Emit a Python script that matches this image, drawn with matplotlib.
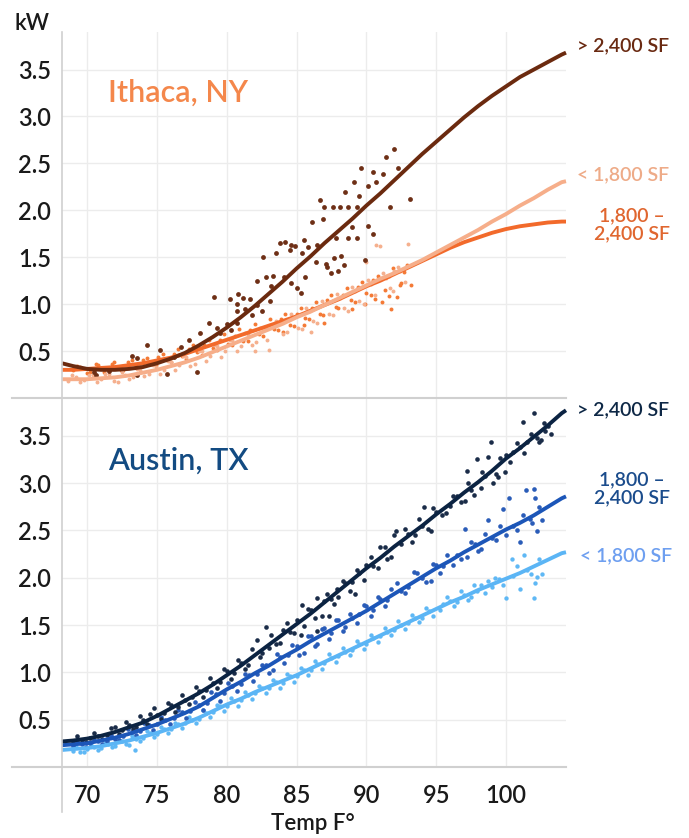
import numpy as np
import matplotlib.pyplot as plt
from matplotlib.lines import Line2D

plt.rcParams['font.family'] = ['Lato', 'DejaVu Sans']
plt.rcParams['font.weight'] = 'semibold'

# fitted load curves, kW vs outdoor temperature (F)
curve_temp = [68.2, 69, 70, 71, 72, 73, 74, 75, 76, 77, 78, 79, 80, 81, 82, 83, 84, 85, 86,
              87, 88, 89, 90, 91, 92, 93, 94, 95, 96, 97, 98, 99, 100, 101, 102, 103, 104, 104.3]

ith_large_fit = [0.37, 0.34, 0.31, 0.30, 0.30, 0.31, 0.33, 0.37, 0.42, 0.48, 0.56, 0.65, 0.75,
                 0.86, 0.98, 1.11, 1.24, 1.38, 1.51, 1.65, 1.78, 1.91, 2.05, 2.18, 2.32, 2.46,
                 2.60, 2.73, 2.86, 2.99, 3.11, 3.22, 3.32, 3.42, 3.50, 3.58, 3.66, 3.68]
ith_mid_fit = [0.30, 0.30, 0.31, 0.32, 0.33, 0.35, 0.37, 0.40, 0.43, 0.47, 0.52, 0.57, 0.62,
               0.67, 0.72, 0.77, 0.82, 0.87, 0.93, 0.99, 1.05, 1.12, 1.19, 1.25, 1.32, 1.39,
               1.46, 1.53, 1.60, 1.66, 1.71, 1.76, 1.80, 1.83, 1.85, 1.87, 1.88, 1.88]
ith_small_fit = [0.20, 0.20, 0.20, 0.21, 0.22, 0.24, 0.27, 0.30, 0.34, 0.38, 0.43, 0.49, 0.55,
                 0.61, 0.67, 0.73, 0.79, 0.86, 0.92, 0.99, 1.06, 1.13, 1.20, 1.27, 1.33, 1.40,
                 1.47, 1.55, 1.63, 1.71, 1.79, 1.88, 1.96, 2.05, 2.13, 2.22, 2.30, 2.31]

aus_large_fit = [0.27, 0.28, 0.30, 0.33, 0.37, 0.42, 0.47, 0.54, 0.62, 0.70, 0.78, 0.87, 0.97,
                 1.07, 1.18, 1.29, 1.40, 1.51, 1.62, 1.74, 1.86, 1.98, 2.10, 2.21, 2.33, 2.44,
                 2.55, 2.67, 2.78, 2.90, 3.01, 3.13, 3.26, 3.37, 3.49, 3.61, 3.74, 3.77]
aus_mid_fit = [0.23, 0.24, 0.25, 0.28, 0.31, 0.35, 0.40, 0.45, 0.51, 0.57, 0.64, 0.73, 0.82,
               0.90, 0.99, 1.07, 1.16, 1.24, 1.33, 1.41, 1.49, 1.57, 1.65, 1.74, 1.83, 1.92,
               2.01, 2.10, 2.18, 2.27, 2.35, 2.43, 2.51, 2.58, 2.66, 2.75, 2.84, 2.86]
aus_small_fit = [0.18, 0.19, 0.20, 0.22, 0.25, 0.28, 0.32, 0.36, 0.41, 0.46, 0.52, 0.59, 0.66,
                 0.72, 0.79, 0.85, 0.91, 0.97, 1.04, 1.11, 1.18, 1.25, 1.32, 1.39, 1.46, 1.53,
                 1.60, 1.67, 1.74, 1.80, 1.87, 1.93, 1.99, 2.05, 2.12, 2.19, 2.26, 2.27]

# hourly observations (temp, kW)
ith_large_obs = [
    (70.5, 0.28), (70.6, 0.25), (71.6, 0.29), (73.2, 0.45), (73.6, 0.43), (73.6, 0.24),
    (74.3, 0.56), (75.2, 0.51), (75.7, 0.26), (76.2, 0.44), (76.7, 0.54), (77.3, 0.62),
    (77.9, 0.28), (78.1, 0.69), (78.7, 0.80), (79.1, 1.08), (79.3, 0.75), (79.5, 0.69),
    (80.0, 0.79), (80.2, 1.06), (80.3, 0.72), (80.7, 0.80), (80.7, 1.00), (80.7, 0.93),
    (80.8, 1.11), (81.2, 1.07), (81.3, 0.95), (81.7, 1.05), (81.8, 0.88), (82.2, 1.25),
    (82.2, 0.99), (82.5, 0.93), (82.6, 1.50), (82.8, 1.29), (83.1, 1.03), (83.2, 1.19),
    (83.3, 1.30), (83.5, 1.55), (83.8, 1.65), (84.1, 1.29), (84.2, 1.66), (84.5, 1.58),
    (84.6, 1.63), (84.6, 1.23), (84.9, 1.62), (85.0, 1.17), (85.3, 1.12), (85.4, 1.54),
    (85.5, 1.68), (85.6, 1.29), (85.8, 1.61), (86.1, 1.88), (86.4, 1.45), (86.5, 1.63),
    (86.7, 2.11), (86.9, 1.91), (87.0, 2.04), (87.1, 1.43), (87.2, 1.40), (87.5, 1.33),
    (87.6, 2.04), (87.7, 1.49), (87.8, 1.71), (88.0, 1.35), (88.1, 2.04), (88.2, 1.51),
    (88.4, 1.42), (88.5, 2.20), (88.7, 2.04), (88.7, 1.70), (89.0, 1.82), (89.1, 2.30),
    (89.3, 2.03), (89.3, 1.70), (89.5, 2.15), (89.6, 2.45), (89.9, 1.47), (90.1, 2.26),
    (90.1, 1.83), (90.5, 2.41), (90.5, 1.75), (90.7, 2.30), (91.2, 2.39), (91.4, 2.57),
    (91.7, 2.03), (92.0, 2.65), (92.3, 2.45), (93.1, 2.12),
]
ith_mid_obs = [
    (69.0, 0.30), (69.5, 0.33), (70.2, 0.28), (70.8, 0.35), (71.3, 0.31), (71.8, 0.36),
    (72.4, 0.30), (72.9, 0.38), (73.5, 0.34), (74.0, 0.40), (74.6, 0.36), (75.1, 0.44),
    (75.7, 0.40), (76.2, 0.47), (76.8, 0.45), (77.3, 0.52), (77.9, 0.49), (78.4, 0.57),
    (79.0, 0.53), (79.5, 0.62), (80.1, 0.58), (80.6, 0.66), (81.2, 0.61), (81.7, 0.72),
    (82.3, 0.68), (82.8, 0.76), (83.4, 0.73), (83.9, 0.84), (84.0, 0.70), (84.5, 0.78),
    (85.0, 0.90), (85.5, 0.78), (85.6, 0.85), (86.1, 0.96), (86.7, 0.90), (87.0, 0.80),
    (87.2, 1.04), (87.8, 0.97), (88.3, 1.10), (88.9, 1.04), (89.0, 0.95), (89.4, 1.18),
    (89.9, 1.00), (90.0, 1.12), (90.5, 1.26), (90.6, 1.05), (91.1, 1.02), (91.6, 1.09),
    (91.6, 1.30), (91.8, 0.95), (92.2, 1.08), (92.5, 1.23), (92.7, 1.34), (93.2, 1.20),
    (69.3, 0.34), (70.0, 0.27), (70.6, 0.36), (71.2, 0.28), (71.9, 0.38), (72.6, 0.30),
    (73.2, 0.40), (73.8, 0.33), (74.3, 0.43), (74.9, 0.35), (75.4, 0.47), (76.0, 0.38),
    (76.5, 0.52), (77.1, 0.42), (77.6, 0.57), (78.2, 0.46), (78.7, 0.62), (79.3, 0.51),
    (79.8, 0.68), (80.4, 0.56), (80.9, 0.73), (81.5, 0.61), (82.0, 0.79), (82.6, 0.66),
    (83.1, 0.84), (83.7, 0.72), (84.2, 0.90), (84.8, 0.77), (85.3, 0.96), (85.9, 0.84),
    (86.4, 1.02), (86.9, 0.88), (87.5, 1.10), (88.0, 0.96), (88.6, 1.17), (89.2, 1.02),
    (89.7, 1.24), (90.3, 1.10), (90.8, 1.30), (91.3, 1.15), (91.9, 1.38), (92.4, 1.20),
    (92.9, 1.42),
]
ith_small_obs = [
    (68.6, 0.18), (69.2, 0.22), (69.8, 0.19), (70.4, 0.24), (71.0, 0.20), (71.6, 0.26),
    (72.2, 0.17), (72.7, 0.25), (73.3, 0.22), (73.8, 0.30), (74.4, 0.26), (74.9, 0.33),
    (75.5, 0.30), (76.0, 0.38), (76.6, 0.35), (77.1, 0.44), (77.7, 0.36), (78.2, 0.50),
    (78.8, 0.45), (79.3, 0.55), (79.9, 0.50), (80.4, 0.62), (81.0, 0.55), (81.5, 0.68),
    (82.0, 0.50), (82.1, 0.60), (82.6, 0.74), (83.0, 0.51), (83.7, 0.80), (84.3, 0.70),
    (84.8, 0.86), (85.4, 0.74), (85.9, 0.93), (86.0, 0.70), (86.5, 0.80), (87.0, 1.00),
    (87.6, 0.88), (88.1, 1.07), (88.7, 0.93), (89.2, 1.14), (89.8, 1.00), (90.0, 1.45),
    (90.3, 1.22), (90.7, 1.63), (91.0, 1.62), (91.4, 1.28), (91.9, 1.14), (92.0, 1.35),
    (92.4, 1.35), (93.0, 1.64),
    (68.9, 0.24), (69.5, 0.17), (70.1, 0.25), (70.7, 0.17), (71.3, 0.26), (71.9, 0.18),
    (72.5, 0.28), (73.0, 0.20), (73.6, 0.31), (74.1, 0.23), (74.7, 0.35), (75.2, 0.26),
    (75.8, 0.39), (76.3, 0.30), (76.9, 0.45), (77.4, 0.34), (78.0, 0.50), (78.5, 0.39),
    (79.1, 0.56), (79.6, 0.44), (80.2, 0.62), (80.7, 0.50), (81.3, 0.69), (81.8, 0.56),
    (82.4, 0.75), (82.9, 0.62), (83.5, 0.82), (84.0, 0.68), (84.6, 0.89), (85.1, 0.75),
    (85.7, 0.96), (86.2, 0.82), (86.8, 1.03), (87.3, 0.89), (87.9, 1.11), (88.4, 0.96),
    (89.0, 1.18), (89.5, 1.03), (90.1, 1.26), (90.6, 1.10), (91.2, 1.33), (91.7, 1.17),
    (92.3, 1.40), (92.8, 1.24),
]

aus_large_obs = [
    (69.0, 0.27), (69.6, 0.29), (70.2, 0.31), (70.8, 0.33), (71.4, 0.34), (72.0, 0.42),
    (72.5, 0.39), (73.0, 0.44), (73.5, 0.42), (74.0, 0.50), (74.5, 0.56), (75.0, 0.55),
    (75.5, 0.57), (76.0, 0.66), (76.5, 0.63), (77.0, 0.71), (77.5, 0.74), (78.0, 0.80),
    (78.5, 0.81), (79.0, 0.89), (79.5, 0.90), (80.0, 1.01), (80.5, 0.99), (81.0, 1.10),
    (81.5, 1.08), (82.2, 1.34), (82.5, 1.20), (82.8, 1.48), (83.0, 1.26), (83.5, 1.30),
    (84.0, 1.45), (84.5, 1.43), (85.0, 1.55), (85.3, 1.39), (85.4, 1.71), (85.5, 1.49),
    (86.0, 1.66), (86.5, 1.79), (86.5, 1.44), (86.8, 1.60), (87.0, 1.75), (87.3, 1.60),
    (87.5, 1.78), (87.9, 1.88), (88.0, 1.80), (88.5, 1.95), (89.0, 1.96), (89.2, 1.83),
    (89.5, 2.05), (90.0, 2.14), (90.5, 2.12), (91.0, 2.33), (91.5, 2.20), (92.0, 2.45),
    (92.1, 2.49), (92.5, 2.36), (93.0, 2.46), (93.5, 2.45), (94.0, 2.55), (94.1, 2.75),
    (94.6, 2.49), (95.0, 2.70), (95.4, 2.66), (96.0, 2.76), (96.5, 2.86), (97.1, 2.81),
    (97.2, 3.13), (97.5, 2.93), (97.9, 3.25), (98.2, 2.95), (98.5, 3.08), (98.7, 3.28),
    (98.9, 3.43), (99.1, 3.00), (99.4, 3.06), (99.9, 3.12), (100.0, 3.30), (100.5, 3.33),
    (101.0, 3.38), (101.2, 3.65), (101.5, 3.43), (102.0, 3.74), (102.2, 3.48), (102.5, 3.46),
    (102.8, 3.55), (103.0, 3.60),
    (69.3, 0.33), (69.9, 0.26), (70.5, 0.36), (71.1, 0.30), (71.7, 0.41), (72.3, 0.35),
    (72.8, 0.48), (73.3, 0.40), (73.8, 0.54), (74.3, 0.45), (74.8, 0.62), (75.3, 0.51),
    (75.8, 0.68), (76.3, 0.58), (76.8, 0.76), (77.3, 0.67), (77.8, 0.85), (78.3, 0.74),
    (78.8, 0.94), (79.3, 0.84), (79.8, 1.04), (80.3, 0.93), (80.8, 1.13), (81.3, 1.04),
    (81.8, 1.25), (82.4, 1.16), (83.2, 1.40), (83.8, 1.31), (84.3, 1.52), (84.8, 1.42),
    (85.8, 1.67), (86.3, 1.58), (87.2, 1.83), (87.7, 1.72), (88.3, 1.97), (88.8, 1.86),
    (89.3, 2.08), (89.8, 1.98), (90.3, 2.22), (90.8, 2.10), (91.3, 2.32), (91.8, 2.22),
    (92.8, 2.52), (93.3, 2.38), (93.8, 2.62), (94.4, 2.52), (94.8, 2.74), (95.7, 2.68),
    (96.2, 2.86), (96.8, 2.80), (97.3, 3.00), (97.7, 2.88), (98.3, 3.12), (99.3, 3.10),
    (99.6, 3.27), (100.3, 3.22), (100.8, 3.42), (101.3, 3.32), (101.8, 3.52), (102.4, 3.43),
    (102.7, 3.64), (103.2, 3.52),
]
aus_mid_obs = [
    (69.0, 0.22), (69.6, 0.24), (70.2, 0.25), (70.8, 0.27), (71.4, 0.28), (72.0, 0.30),
    (72.6, 0.33), (73.2, 0.37), (73.8, 0.38), (74.4, 0.44), (75.0, 0.45), (75.6, 0.50),
    (76.2, 0.52), (76.8, 0.58), (77.4, 0.59), (78.0, 0.66), (78.6, 0.68), (79.2, 0.77),
    (79.8, 0.78), (80.4, 0.86), (81.0, 0.88), (81.6, 0.97), (82.2, 0.98), (82.8, 1.08),
    (83.3, 1.03), (83.8, 1.16), (84.4, 1.18), (85.0, 1.28), (85.5, 1.20), (86.0, 1.38),
    (86.5, 1.30), (87.0, 1.47), (87.5, 1.42), (88.0, 1.55), (88.5, 1.48), (89.0, 1.58),
    (89.5, 1.62), (90.0, 1.70), (90.5, 1.66), (91.0, 1.78), (91.5, 1.76), (92.2, 1.95),
    (92.5, 1.86), (93.0, 1.90), (93.4, 2.06), (94.0, 2.00), (94.6, 1.97), (95.0, 2.13),
    (95.5, 2.12), (96.2, 2.14), (96.5, 2.24), (97.1, 2.52), (97.2, 2.22), (97.8, 2.36),
    (98.2, 2.30), (98.7, 2.61), (99.0, 2.42), (99.8, 2.73), (100.0, 2.45), (100.2, 2.84),
    (100.5, 2.55), (101.0, 2.38), (101.4, 2.93), (101.7, 2.62), (102.0, 2.94), (102.1, 2.84),
    (102.2, 2.49), (102.6, 2.61),
    (69.3, 0.27), (69.9, 0.21), (70.5, 0.29), (71.1, 0.24), (71.7, 0.34), (72.3, 0.29),
    (72.9, 0.40), (73.5, 0.34), (74.1, 0.46), (74.7, 0.39), (75.3, 0.53), (75.9, 0.45),
    (76.5, 0.60), (77.1, 0.52), (77.7, 0.69), (78.3, 0.60), (78.9, 0.79), (79.5, 0.70),
    (80.1, 0.89), (80.7, 0.80), (81.3, 0.98), (81.9, 0.91), (82.5, 1.08), (83.0, 0.99),
    (83.6, 1.19), (84.1, 1.10), (84.7, 1.29), (85.2, 1.18), (85.8, 1.38), (86.3, 1.28),
    (86.8, 1.46), (87.3, 1.35), (87.8, 1.55), (88.3, 1.44), (88.8, 1.62), (89.3, 1.52),
    (89.8, 1.71), (90.3, 1.60), (90.8, 1.80), (91.3, 1.70), (91.8, 1.88), (92.8, 1.84),
    (93.6, 2.05), (94.3, 1.96), (94.8, 2.15), (95.3, 2.05), (95.8, 2.24), (96.8, 2.20),
    (97.5, 2.38), (98.0, 2.28), (98.5, 2.46), (99.3, 2.40), (99.6, 2.55), (100.8, 2.50),
    (101.2, 2.66), (101.9, 2.58), (102.4, 2.75),
]
aus_small_obs = [
    (69.0, 0.17), (69.5, 0.16), (70.0, 0.19), (70.5, 0.21), (71.0, 0.20), (71.5, 0.24),
    (72.0, 0.22), (72.5, 0.27), (73.0, 0.23), (73.4, 0.18), (73.5, 0.30), (74.0, 0.31),
    (74.5, 0.36), (75.0, 0.35), (75.5, 0.40), (76.0, 0.40), (76.5, 0.45), (77.0, 0.46),
    (77.5, 0.50), (78.0, 0.51), (78.5, 0.57), (79.0, 0.58), (79.5, 0.64), (80.0, 0.64),
    (80.5, 0.70), (81.0, 0.71), (81.5, 0.76), (82.0, 0.78), (82.5, 0.83), (83.0, 0.84),
    (83.5, 0.90), (84.0, 0.89), (84.5, 0.96), (85.0, 0.96), (85.5, 1.02), (86.0, 1.02),
    (86.5, 1.09), (87.0, 1.10), (87.5, 1.15), (88.0, 1.17), (88.5, 1.22), (89.0, 1.24),
    (89.5, 1.30), (90.0, 1.30), (90.5, 1.36), (91.0, 1.38), (91.5, 1.43), (92.0, 1.45),
    (92.5, 1.50), (93.0, 1.52), (93.5, 1.58), (94.0, 1.58), (94.5, 1.65), (95.3, 1.66),
    (95.5, 1.72), (96.0, 1.75), (96.5, 1.74), (97.0, 1.82), (97.5, 1.80), (97.9, 1.86),
    (98.2, 1.92), (98.7, 1.97), (99.0, 1.90), (99.5, 1.99), (100.0, 1.79), (100.4, 2.20),
    (100.5, 2.02), (101.0, 1.88), (101.3, 2.24), (101.5, 2.08), (102.0, 1.79), (102.1, 1.94),
    (102.2, 2.01), (102.6, 2.04),
    (69.2, 0.21), (69.8, 0.16), (70.3, 0.23), (70.8, 0.18), (71.3, 0.25), (71.8, 0.21),
    (72.3, 0.29), (72.8, 0.24), (73.2, 0.33), (73.8, 0.28), (74.3, 0.38), (74.8, 0.32),
    (75.3, 0.42), (75.8, 0.36), (76.3, 0.47), (76.8, 0.41), (77.3, 0.53), (77.8, 0.47),
    (78.3, 0.60), (78.8, 0.53), (79.3, 0.66), (79.8, 0.59), (80.3, 0.73), (80.8, 0.65),
    (81.3, 0.79), (81.8, 0.72), (82.3, 0.86), (82.8, 0.78), (83.3, 0.92), (83.8, 0.84),
    (84.3, 0.98), (84.8, 0.90), (85.3, 1.05), (85.8, 0.97), (86.3, 1.12), (86.8, 1.04),
    (87.3, 1.19), (87.8, 1.11), (88.3, 1.26), (88.8, 1.18), (89.3, 1.33), (89.8, 1.25),
    (90.3, 1.40), (90.8, 1.32), (91.3, 1.47), (91.8, 1.40), (92.3, 1.54), (92.8, 1.46),
    (93.3, 1.61), (93.8, 1.53), (94.3, 1.68), (94.8, 1.60), (95.8, 1.80), (96.3, 1.70),
    (96.8, 1.86), (97.3, 1.76), (97.7, 1.92), (98.5, 1.84), (99.2, 2.00), (99.8, 1.92),
    (100.8, 2.12), (101.8, 2.04), (102.4, 2.20),
]

x_ticks = [70, 75, 80, 85, 90, 95, 100]
y_ticks = [0.5, 1.0, 1.5, 2.0, 2.5, 3.0, 3.5]

W, H = 689, 838
fig = plt.figure(figsize=(W / 100, H / 100), dpi=100)

def fx(px):
    return px / W

def fy(py):
    return 1 - py / H

ax_top = fig.add_axes([fx(62), fy(398), fx(566) - fx(62), fy(32) - fy(398)])
ax_bot = fig.add_axes([fx(62), fy(767), fx(566) - fx(62), fy(398) - fy(767)])

for ax in (ax_top, ax_bot):
    ax.set_xlim(68.2, 104.3)
    ax.set_ylim(0, 3.9)
    ax.set_xticks(x_ticks)
    ax.set_yticks(y_ticks)
    ax.set_yticklabels([f"{v:.1f}" for v in y_ticks])
    ax.grid(True, color='#ececec', lw=1)
    ax.set_axisbelow(True)
    for s in ax.spines.values():
        s.set_visible(False)
    ax.tick_params(length=0, labelsize=17, colors='#1a1a1a', pad=8)

ax_top.tick_params(labelbottom=False)
ax_bot.tick_params(axis='x', pad=12)

def draw_group(ax, obs, fit, dot_color, line_color, size):
    t = [p[0] for p in obs]
    k = [p[1] for p in obs]
    ax.scatter(t, k, s=size, color=dot_color, lw=0, zorder=2, clip_on=False)
    ax.plot(curve_temp, fit, color=line_color, lw=2.8, zorder=3,
            solid_capstyle='butt', solid_joinstyle='round', clip_on=False)

# Ithaca, NY
draw_group(ax_top, ith_mid_obs, ith_mid_fit, '#f47a36', '#f26a2b', 8)
draw_group(ax_top, ith_small_obs, ith_small_fit, '#f5b08e', '#f6ae8a', 8)
draw_group(ax_top, ith_large_obs, ith_large_fit, '#6e2f16', '#6b2a0f', 12)

# Austin, TX
draw_group(ax_bot, aus_small_obs, aus_small_fit, '#5fb8f5', '#5bb5f5', 10)
draw_group(ax_bot, aus_mid_obs, aus_mid_fit, '#2a5cb8', '#1c56b8', 11)
draw_group(ax_bot, aus_large_obs, aus_large_fit, '#1a2c48', '#0b2342', 11)

ax_top.text(71.5, 3.25, "Ithaca, NY", color='#f4874b', fontsize=22, va='center')
ax_bot.text(71.5, 3.24, "Austin, TX", color='#134b82', fontsize=22, va='center')

# axis frame lines
gray = '#d0d0d0'
fig.add_artist(Line2D([fx(12), fx(566)], [fy(398), fy(398)], color=gray, lw=1.5))
fig.add_artist(Line2D([fx(12), fx(566)], [fy(767), fy(767)], color=gray, lw=1.5))
fig.add_artist(Line2D([fx(62), fx(62)], [fy(32), fy(812)], color=gray, lw=1.2))

fig.text(fx(14), fy(24), "kW", fontsize=16, color='#1a1a1a', va='center')
fig.text(fx(313), fy(823), "Temp F°", fontsize=16, color='#1a1a1a',
         ha='center', va='center')

# size class labels
lab_kw = dict(fontsize=14, va='center')
fig.text(fx(577), fy(46), "> 2,400 SF", color='#6a2a12', **lab_kw)
fig.text(fx(577), fy(175), "< 1,800 SF", color='#eeab88', **lab_kw)
fig.text(fx(632), fy(225), "1,800 –\n2,400 SF", color='#e0662f',
         ha='center', linespacing=1.05, **lab_kw)

fig.text(fx(577), fy(410), "> 2,400 SF", color='#0e2846', **lab_kw)
fig.text(fx(632), fy(489), "1,800 –\n2,400 SF", color='#1b4c8c',
         ha='center', linespacing=1.05, **lab_kw)
fig.text(fx(580), fy(556), "< 1,800 SF", color='#6e9ff0', **lab_kw)

fig.savefig("out.png", dpi=100)
